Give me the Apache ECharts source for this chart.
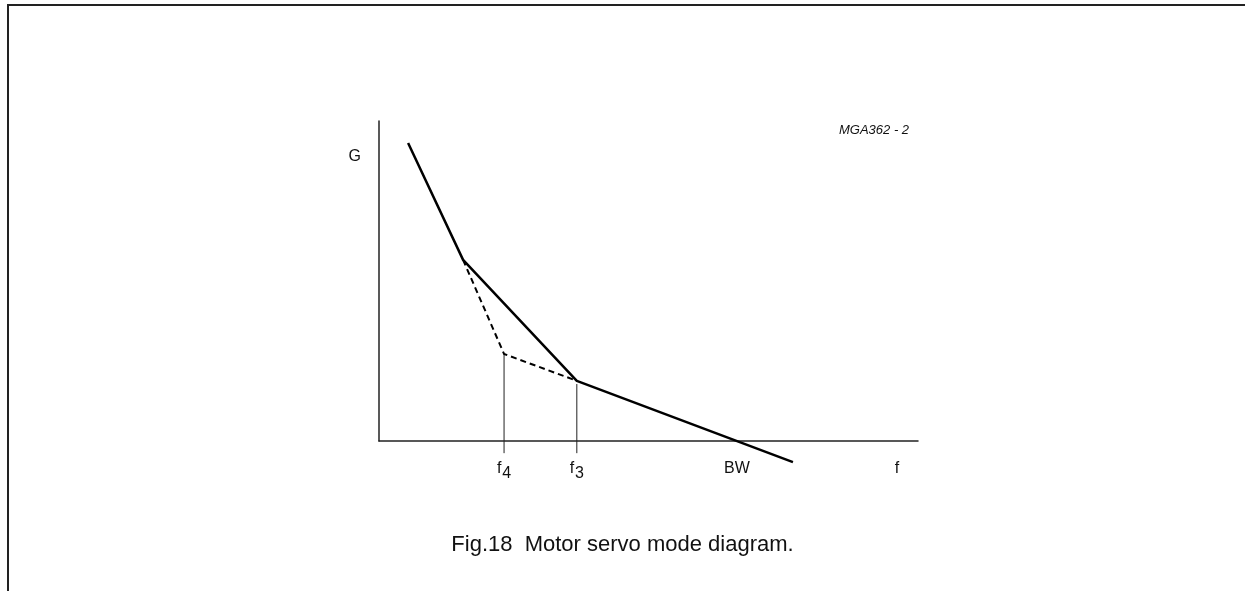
<!DOCTYPE html>
<html>
<head>
<meta charset="utf-8">
<script src="https://cdn.jsdelivr.net/npm/echarts@6/dist/echarts.min.js"></script>
<style>
  body { margin: 0; background: #fff; }
  #wrap { position: relative; width: 1245px; height: 591px; overflow: hidden; }
  #myChart { position: absolute; left: 0; top: 0; width: 1245px; height: 591px; }
  #frame {
    position: absolute; left: 7px; top: 4px; width: 1300px; height: 700px;
    border-top: 2px solid #222; border-left: 2px solid #222;
    pointer-events: none;
  }
</style>
</head>
<body>
<div id="wrap">
  <div id="myChart"></div>
  <div id="frame"></div>
</div>
<script>
// gain asymptotes (arbitrary units, axes run 0..100)
const solidX = [5.4, 15.6, 36.7, 76.8];
const solidY = [93.1, 56.6, 18.8, -6.6];
const dashX = [15.6, 23.2, 36.7];
const dashY = [56.6, 27.2, 18.8];

// frequency markers
const markX = [23.2, 36.7];
const markTop = [27.2, 17.8];
const markBottom = -3.8;

// axis labels
const xLabelValues = [23.2, 36.7, 66.4, 96.1];
const xLabelTexts = ['f', 'f', 'BW', 'f'];
const xLabelSubs = ['4', '3', '', ''];
const yLabelValues = [89];
const yLabelTexts = ['G'];

const font = 'Liberation Sans, Arial, sans-serif';

function pairs(xs, ys) {
  return xs.map((x, i) => [x, ys[i]]);
}

let markerSeries = markX.map((x, i) => ({
  type: 'line',
  data: [[x, markTop[i]], [x, markBottom]],
  symbol: 'none',
  clip: false,
  silent: true,
  lineStyle: {color: '#222', width: 1},
  z: 1
}));

let option = {
  backgroundColor: '#fff',
  animation: false,
  title: [
    {
      text: 'Fig.18  Motor servo mode diagram.',
      left: 'center',
      top: 529,
      textStyle: {fontFamily: font, fontSize: 22, fontWeight: 'normal', color: '#111'}
    },
    {
      text: 'MGA362 - 2',
      left: 834,
      top: 119,
      textStyle: {fontFamily: font, fontSize: 13, fontWeight: 'normal', fontStyle: 'italic', color: '#111'}
    }
  ],
  grid: {left: 379, right: 327, top: 121, bottom: 150},
  xAxis: {
    type: 'value',
    min: 0,
    max: 100,
    splitLine: {show: false},
    axisTick: {show: false},
    axisLine: {show: true, onZero: false, lineStyle: {color: '#222', width: 1.5}},
    axisLabel: {
      customValues: xLabelValues,
      margin: 20,
      fontFamily: font,
      fontSize: 16,
      color: '#111',
      formatter: function (v) {
        let i = xLabelValues.indexOf(v);
        if (i < 0) return '';
        if (xLabelSubs[i]) return '{m|' + xLabelTexts[i] + '}{s|' + xLabelSubs[i] + '}';
        return '{m|' + xLabelTexts[i] + '}';
      },
      rich: {
        m: {fontFamily: font, fontSize: 16, color: '#111', padding: [0, 0, 5, 0]},
        s: {fontFamily: font, fontSize: 16, color: '#111', padding: [5, 0, 0, 1]}
      }
    }
  },
  yAxis: {
    type: 'value',
    min: 0,
    max: 100,
    splitLine: {show: false},
    axisTick: {show: false},
    axisLine: {show: true, onZero: false, lineStyle: {color: '#222', width: 1.5}},
    axisLabel: {
      customValues: yLabelValues,
      margin: 18,
      fontFamily: font,
      fontSize: 16,
      color: '#111',
      formatter: function (v) {
        let i = yLabelValues.indexOf(v);
        return i < 0 ? '' : yLabelTexts[i];
      }
    }
  },
  series: [
    {
      type: 'line',
      data: pairs(solidX, solidY),
      symbol: 'none',
      clip: false,
      lineStyle: {color: '#000', width: 2.5},
      z: 3
    },
    {
      type: 'line',
      data: pairs(dashX, dashY),
      symbol: 'none',
      clip: false,
      lineStyle: {color: '#000', width: 2, type: [6, 4]},
      z: 2
    }
  ].concat(markerSeries)
};

let myChart = echarts.init(document.getElementById('myChart'));
myChart.setOption(option);
</script>
</body>
</html>
